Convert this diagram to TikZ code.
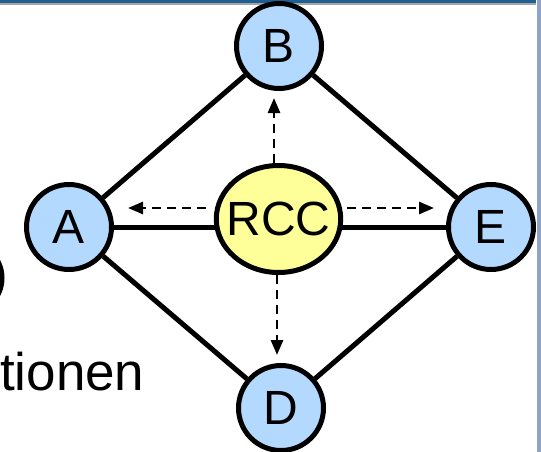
\documentclass[tikz,border=0pt]{standalone}
\usepackage{fontspec}
\setmainfont{Liberation Sans}
\usetikzlibrary{%
		arrows.meta%
		,shapes.geometric%
	}
\definecolor{nodeblue}{HTML}{B3D9FF}
\definecolor{rccyellow}{HTML}{FFFF99}
\definecolor{barblue}{HTML}{1F5F93}
\definecolor{stripblue}{HTML}{8EA3CC}

\begin{document}
\begin{tikzpicture}[x=1pt, y=-1pt,
			station/.style={circle, draw, line width=5pt, fill=nodeblue, minimum size=85pt, inner sep=0pt, font=\fontsize{48}{48}\selectfont},
			hub/.style={ellipse, draw, line width=5pt, fill=rccyellow, minimum width=122pt, minimum height=107pt, inner xsep=-8pt, inner ysep=0pt, font=\fontsize{48}{48}\selectfont},
			link/.style={line width=5pt},
			query/.style={line width=2.8pt, dash pattern=on 9pt off 6pt, -{Triangle[length=15pt, width=12pt]}}]
			\useasboundingbox (0,0) rectangle (541,452);
			\clip (0,0) rectangle (541,452);
			
			\fill[barblue] (0,0) rectangle (536,3.5);
			\fill[gray!70] (0,3.5) rectangle (536,5.5);
			\fill[stripblue] (536.5,0) rectangle (541,452);
			
			\draw[line width=5pt] (-34,278) circle [radius=36];
			\node[anchor=base east, font=\fontsize{53}{53}\selectfont] (word) at (148,390) {tionen};
			
			\node[station] (A) at (69,227) {A};
			\node[station] (B) at (279,46) {B};
			\node[station] (E) at (491,227) {E};
			\node[station] (D) at (281,408) {D};
			
			\foreach \from/\to in {A/B, B/E, E/D, D/A, A/E}{
				\draw[link] (\from) -- (\to);
			}
			
			\node[hub] (rcc) at (278.5,219) {RCC};
			
			\draw[query, shorten <=8pt, shorten >=14pt] ([yshift=11pt]rcc.west) -- ([yshift=19pt]A.east);
			\draw[query, shorten <=4pt, shorten >=12pt] ([yshift=11pt]rcc.east) -- ([yshift=19pt]E.west);
			\draw[query, shorten >=7pt] ([xshift=-4.5pt]rcc.north) -- ([xshift=-5pt]B.south);
			\draw[query, shorten >=8pt] ([xshift=-1.5pt]rcc.south) -- ([xshift=-4pt]D.north);
		\end{tikzpicture}
\end{document}
